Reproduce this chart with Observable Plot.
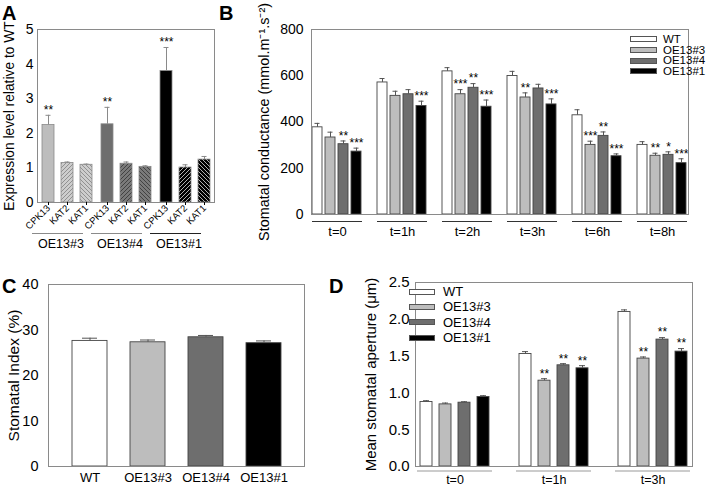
<!DOCTYPE html>
<html>
<head>
<meta charset="utf-8">
<script src="https://cdn.jsdelivr.net/npm/d3@7"></script>
<script src="https://cdn.jsdelivr.net/npm/@observablehq/plot@0.6"></script>
<style>
  html, body { margin: 0; padding: 0; background: #fff; }
  #fig { position: relative; width: 712px; height: 488px; overflow: hidden; font-family: "Liberation Sans", Arial, sans-serif; color: #000; }
  .panel { position: absolute; }
  .panel svg { display: block; background: transparent !important; overflow: visible; }
  .letter { position: absolute; font-weight: bold; font-size: 20px; line-height: 1; z-index: 5; }
  .legend { position: absolute; z-index: 4; }
  .legend .row { display: flex; align-items: center; white-space: nowrap; }
  .legend .sw { box-sizing: border-box; border: 1px solid #555; flex: none; }
</style>
</head>
<body>
<div id="fig"></div>
<script>
// ===================== DATA =====================
// Panel A: expression level relative to WT
const aLines = ["OE13#3", "OE13#4", "OE13#1"];
const aGenes = ["CPK13", "KAT2", "KAT1"];
const aOE13_3 = [2.24, 1.14, 1.09];
const aOE13_4 = [2.26, 1.12, 1.03];
const aOE13_1 = [3.80, 1.01, 1.24];
const aOE13_3se = [0.28, 0.03, 0.02];
const aOE13_4se = [0.49, 0.05, 0.03];
const aOE13_1se = [0.68, 0.08, 0.09];
const aOE13_3sig = ["**", "", ""];
const aOE13_4sig = ["**", "", ""];
const aOE13_1sig = ["***", "", ""];
const aYTicks = [0, 1, 2, 3, 4, 5];

// Panel B: stomatal conductance
const genotypes = ["WT", "OE13#3", "OE13#4", "OE13#1"];
const bTimes = ["t=0", "t=1h", "t=2h", "t=3h", "t=6h", "t=8h"];
const bWT   = [377, 571, 619, 599, 429, 301];
const bOE3  = [333, 513, 520, 506, 301, 254];
const bOE4  = [304, 520, 548, 545, 340, 258];
const bOE1  = [272, 469, 466, 476, 252, 222];
const bWTse  = [17, 17, 16, 20, 24, 14];
const bOE3se = [23, 20, 20, 20, 16, 11];
const bOE4se = [14, 20, 18, 18, 17, 13];
const bOE1se = [15, 21, 29, 24, 10, 19];
const bWTsig  = ["", "", "", "", "", ""];
const bOE3sig = ["", "", "***", "**", "***", "**"];
const bOE4sig = ["**", "", "**", "", "**", "*"];
const bOE1sig = ["***", "***", "***", "***", "***", "***"];
const bYTicks = [0, 200, 400, 600, 800];

// Panel C: stomatal index
const cValues = [27.6, 27.3, 28.4, 27.1];
const cSE = [0.6, 0.5, 0.4, 0.5];
const cYTicks = [0, 10, 20, 30, 40];

// Panel D: mean stomatal aperture
const dTimes = ["t=0", "t=1h", "t=3h"];
const dWT  = [0.876, 1.529, 2.100];
const dOE3 = [0.844, 1.166, 1.466];
const dOE4 = [0.867, 1.375, 1.724];
const dOE1 = [0.944, 1.334, 1.561];
const dWTse  = [0.018, 0.032, 0.028];
const dOE3se = [0.018, 0.027, 0.022];
const dOE4se = [0.013, 0.022, 0.027];
const dOE1se = [0.018, 0.036, 0.041];
const dWTsig  = ["", "", ""];
const dOE3sig = ["", "**", "**"];
const dOE4sig = ["", "**", "**"];
const dOE1sig = ["", "**", "**"];
const dYTicks = [0, 0.5, 1, 1.5, 2, 2.5];

// ===================== STYLES =====================
const FONT = '"Liberation Sans", Arial, sans-serif';
const genoFill = ["#ffffff", "#bdbdbd", "#6e6e6e", "#000000"];
const aSolid = ["#bdbdbd", "#6e6e6e", "#000000"];
const aHatchBg = ["#cdcdcd", "#7a7a7a", "#000000"];
const aHatchLine = ["#8a8a8a", "#3c3c3c", "#c4c4c4"];
const AX = "#8a8a8a";

// ===================== HELPERS =====================
const fig = document.getElementById("fig");
function place(node, left, top) {
  const d = document.createElement("div");
  d.className = "panel";
  d.style.left = left + "px";
  d.style.top = top + "px";
  d.appendChild(node);
  fig.appendChild(d);
  return node;
}
function letter(t, left, top) {
  const d = document.createElement("div");
  d.className = "letter";
  d.textContent = t;
  d.style.left = left + "px";
  d.style.top = top + "px";
  fig.appendChild(d);
}
function legend(left, top, rowH, swW, swH, gap, fs) {
  const div = document.createElement("div");
  div.className = "legend";
  div.style.left = left + "px";
  div.style.top = top + "px";
  genotypes.forEach((g, i) => {
    const row = document.createElement("div");
    row.className = "row";
    row.style.height = rowH + "px";
    const sw = document.createElement("div");
    sw.className = "sw";
    sw.style.width = swW + "px";
    sw.style.height = swH + "px";
    sw.style.background = genoFill[i];
    const tx = document.createElement("span");
    tx.textContent = g;
    tx.style.marginLeft = gap + "px";
    tx.style.fontSize = fs + "px";
    tx.style.lineHeight = rowH + "px";
    row.appendChild(sw); row.appendChild(tx);
    div.appendChild(row);
  });
  fig.appendChild(div);
}
function groupRows(times, series, ses, sigs) {
  const rows = [];
  times.forEach((t, i) => genotypes.forEach((g, j) => rows.push({
    time: t, geno: g, gi: j, value: series[j][i], se: ses[j][i], sig: sigs[j][i]
  })));
  return rows;
}

// ===================== PANEL A =====================
const aVals = [aOE13_3, aOE13_4, aOE13_1];
const aSEs = [aOE13_3se, aOE13_4se, aOE13_1se];
const aSigs = [aOE13_3sig, aOE13_4sig, aOE13_1sig];
const aRows = aLines.flatMap((line, i) => aGenes.map((gene, j) => ({
  line, gene, li: i, value: aVals[i][j], se: aSEs[i][j], sig: aSigs[i][j]
})));

const plotA = Plot.plot({
  width: 220, height: 260,
  marginLeft: 36, marginRight: 6, marginTop: 29, marginBottom: 58,
  style: {fontFamily: FONT, background: "transparent", color: "#000"},
  fx: {domain: aLines, paddingInner: 0, paddingOuter: 0, label: null},
  x: {domain: aGenes, paddingInner: 0.37, paddingOuter: 0.185, label: null},
  y: {domain: [0, 5], label: null},
  marks: [
    Plot.barY(aRows, {fx: "line", x: "gene", y: "value",
      fill: d => d.gene === "CPK13" ? aSolid[d.li] : `url(#hA${d.li}${d.gene})`,
      stroke: AX, strokeWidth: 0.8}),
    Plot.ruleX(aRows, {fx: "line", x: "gene", y1: "value", y2: d => d.value + d.se, stroke: AX}),
    Plot.tickY(aRows, {fx: "line", x: "gene", y: d => d.value + d.se, stroke: AX, insetLeft: 3.5, insetRight: 3.5}),
    Plot.text(aRows.filter(d => d.sig), {fx: "line", x: "gene", y: d => d.value + d.se, text: "sig", dy: -5, fontSize: 12}),
    Plot.frame({facet: "super", stroke: AX}),
    Plot.axisY({ticks: aYTicks, tickSize: 0, tickPadding: 4, fontSize: 14, tickFormat: d => String(d), label: null}),
    Plot.axisY({ticks: [], label: "Expression level relative to WT", labelAnchor: "center", labelArrow: "none", labelOffset: 33, fontSize: 13.8}),
    Plot.axisX({tickRotate: -45, tickSize: 3, tickPadding: 1, fontSize: 9.5, label: null}),
    Plot.ruleY(aLines, {fx: d => d, y: () => 0, dy: 31, dx: -5, insetRight: 8,
      stroke: d => d === "OE13#1" ? "#222222" : AX}),
    Plot.axisFx({anchor: "bottom", tickSize: 0, tickPadding: 37, fontSize: 12.5, dx: -6, label: null})
  ]
});
// hatch patterns
(function () {
  const defs = d3.select(plotA).insert("defs", ":first-child");
  aLines.forEach((line, i) => {
    [["KAT2", "M-1,1 l2,-2 M0,4 l4,-4 M3,5 l2,-2"], ["KAT1", "M-1,3 l2,2 M0,0 l4,4 M3,-1 l2,2"]].forEach(([g, p]) => {
      const pat = defs.append("pattern").attr("id", `hA${i}${g}`)
        .attr("patternUnits", "userSpaceOnUse").attr("width", 4).attr("height", 4);
      pat.append("rect").attr("width", 4).attr("height", 4).attr("fill", aHatchBg[i]);
      pat.append("path").attr("d", p).attr("stroke", aHatchLine[i]).attr("stroke-width", 0.9);
    });
  });
})();
place(plotA, 0, 0);

// ===================== PANEL B =====================
const bRows = groupRows(bTimes, [bWT, bOE3, bOE4, bOE1], [bWTse, bOE3se, bOE4se, bOE1se], [bWTsig, bOE3sig, bOE4sig, bOE1sig]);
const plotB = Plot.plot({
  width: 512, height: 245,
  marginLeft: 89, marginRight: 3, marginTop: 29, marginBottom: 31,
  style: {fontFamily: FONT, background: "transparent", color: "#000"},
  fx: {domain: bTimes, paddingInner: 0.206, paddingOuter: 0.31, label: null},
  x: {domain: genotypes, paddingInner: 0.21, paddingOuter: 0.105, axis: null},
  y: {domain: [0, 800], label: null},
  marks: [
    Plot.barY(bRows, {fx: "time", x: "geno", y: "value", fill: d => genoFill[d.gi], stroke: "#444", strokeWidth: 0.9}),
    Plot.ruleX(bRows, {fx: "time", x: "geno", y1: "value", y2: d => d.value + d.se, stroke: "#555"}),
    Plot.tickY(bRows, {fx: "time", x: "geno", y: d => d.value + d.se, stroke: "#555", insetLeft: 2.5, insetRight: 2.5}),
    Plot.text(bRows.filter(d => d.sig), {fx: "time", x: "geno", y: d => d.value + d.se, text: "sig", dy: -5, fontSize: 12}),
    Plot.frame({facet: "super", stroke: AX}),
    Plot.axisY({ticks: bYTicks, tickSize: 0, tickPadding: 8, fontSize: 14, label: null}),
    Plot.axisY({ticks: [], label: "Stomatal conductance (mmol.m⁻¹.s⁻²)", labelAnchor: "center", labelArrow: "none", labelOffset: 53, fontSize: 14.4}),
    Plot.ruleY(bTimes, {fx: d => d, y: () => 0, dy: 7, stroke: "#333", insetLeft: 1, insetRight: 1}),
    Plot.axisFx({anchor: "bottom", tickSize: 0, tickPadding: 12, fontSize: 13, label: null})
  ]
});
place(plotB, 200, 0);
legend(630, 34, 10.7, 27, 6, 6, 11.5);

// ===================== PANEL C =====================
const cRows = genotypes.map((g, i) => ({geno: g, gi: i, value: cValues[i], se: cSE[i]}));
const plotC = Plot.plot({
  width: 310, height: 223,
  marginLeft: 48, marginRight: 6, marginTop: 19, marginBottom: 22,
  style: {fontFamily: FONT, background: "transparent", color: "#000"},
  x: {domain: genotypes, padding: 0.4, label: null},
  y: {domain: [0, 40], label: null},
  marks: [
    Plot.barY(cRows, {x: "geno", y: "value", fill: d => genoFill[d.gi], stroke: "#444", strokeWidth: 0.9}),
    Plot.ruleX(cRows, {x: "geno", y1: "value", y2: d => d.value + d.se, stroke: "#555"}),
    Plot.tickY(cRows, {x: "geno", y: d => d.value + d.se, stroke: "#555", insetLeft: 10, insetRight: 10}),
    Plot.frame({stroke: AX}),
    Plot.axisY({ticks: cYTicks, tickSize: 0, tickPadding: 10, fontSize: 14.5, label: null}),
    Plot.axisY({ticks: [], label: "Stomatal Index (%)", labelAnchor: "center", labelArrow: "none", labelOffset: 41, fontSize: 15.5}),
    Plot.axisX({tickSize: 0, tickPadding: 6, fontSize: 13, label: null})
  ]
});
place(plotC, 0, 265);

// ===================== PANEL D =====================
const dRows = groupRows(dTimes, [dWT, dOE3, dOE4, dOE1], [dWTse, dOE3se, dOE4se, dOE1se], [dWTsig, dOE3sig, dOE4sig, dOE1sig]);
const plotD = Plot.plot({
  width: 372, height: 223,
  marginLeft: 58, marginRight: 4, marginTop: 17, marginBottom: 22,
  style: {fontFamily: FONT, background: "transparent", color: "#000"},
  fx: {domain: dTimes, paddingInner: 0.206, paddingOuter: 0.16, label: null},
  x: {domain: genotypes, paddingInner: 0.38, paddingOuter: 0.19, axis: null},
  y: {domain: [0, 2.5], label: null},
  marks: [
    Plot.barY(dRows, {fx: "time", x: "geno", y: "value", fill: d => genoFill[d.gi], stroke: "#444", strokeWidth: 0.9}),
    Plot.ruleX(dRows, {fx: "time", x: "geno", y1: "value", y2: d => d.value + d.se, stroke: "#555"}),
    Plot.tickY(dRows, {fx: "time", x: "geno", y: d => d.value + d.se, stroke: "#555", insetLeft: 3, insetRight: 3}),
    Plot.text(dRows.filter(d => d.sig), {fx: "time", x: "geno", y: d => d.value + d.se, text: "sig", dy: -5, fontSize: 12}),
    Plot.frame({facet: "super", stroke: AX}),
    Plot.axisY({ticks: dYTicks, tickSize: 0, tickPadding: 6, fontSize: 15, tickFormat: d3.format(".1f"), label: null}),
    Plot.axisY({ticks: [], label: "Mean stomatal aperture (μm)", labelAnchor: "center", labelArrow: "none", labelOffset: 50, fontSize: 15}),
    Plot.ruleY(dTimes, {fx: d => d, y: () => 0, dy: 4.5, stroke: "#999", insetLeft: 2, insetRight: 2}),
    Plot.axisFx({anchor: "bottom", tickSize: 0, tickPadding: 8.5, fontSize: 12.5, label: null})
  ]
});
place(plotD, 340, 265);
legend(409, 284, 15.3, 26, 6, 8, 13);

// ===================== LETTERS =====================
letter("A", 2, 3);
letter("B", 219, 3);
letter("C", 2, 276);
letter("D", 329, 276);
</script>
</body>
</html>
